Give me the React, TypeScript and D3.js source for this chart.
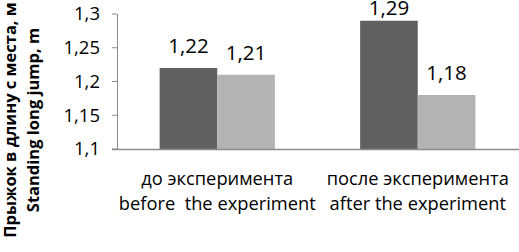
import React from 'react';
import * as d3 from 'd3';

// categories (two lines each: russian / english)
const categoriesRu = ['до эксперимента', 'после эксперимента'];
const categoriesEn = ['before  the experiment', 'after the experiment'];
const seriesNames = ['group1', 'group2'];
const group1Values = [1.22, 1.29];
const group2Values = [1.21, 1.18];
const yTicks = [1.1, 1.15, 1.2, 1.25, 1.3];

const colors = ['#606060', '#b3b3b3'];

const W = 519;
const H = 252;

const fmt = (v: number) => String(v).replace('.', ',');

const App = () => {
  const margin = { top: 14, left: 117, right: 1, bottom: 103 };
  const innerW = W - margin.left - margin.right;
  const innerH = H - margin.top - margin.bottom;

  const x0 = d3.scaleBand().domain(categoriesRu).range([0, innerW]).paddingInner(0).paddingOuter(0);
  const x1 = d3.scaleBand().domain(seriesNames).range([0, x0.bandwidth()]).paddingOuter(0.74).paddingInner(0);
  const y = d3.scaleLinear().domain([1.1, 1.3]).range([innerH, 0]);

  const series = [group1Values, group2Values];
  const font = "'Open Sans', sans-serif";

  return (
    <svg width={W} height={H} style={{ position: 'absolute', left: 0, top: 0, background: '#fff' }}>
      {/* axis title */}
      <g transform={`translate(0, 120) rotate(-90)`} fontFamily={font} fontWeight="bold" fontSize={16.5} fill="#000" textAnchor="middle">
        <text x={0} y={16}>Прыжок в длину с места, м</text>
        <text x={0} y={39}>Standing long jump, m</text>
      </g>
      <g transform={`translate(${margin.left}, ${margin.top})`}>
        {/* y ticks */}
        {yTicks.map((t) => (
          <g key={t}>
            <line x1={-5} x2={0} y1={y(t)} y2={y(t)} stroke="#8c8c8c" strokeWidth={1} />
            <text x={-17} y={y(t)} dy="0.35em" textAnchor="end" fontFamily={font} fontSize={18.5} fill="#000">
              {fmt(t)}
            </text>
          </g>
        ))}
        {/* bars */}
        {categoriesRu.map((c, i) => (
          <g key={c} transform={`translate(${x0(c)}, 0)`}>
            {seriesNames.map((s, j) => {
              const v = series[j][i];
              const top = y(v);
              const bx = x1(s) as number;
              const bw = x1.bandwidth();
              return (
                <g key={s}>
                  <rect x={bx} y={top} width={bw} height={innerH - top} fill={colors[j]} />
                  <text
                    x={bx + bw / 2}
                    y={Math.max(top - 15, 15 - margin.top)}
                    textAnchor="middle"
                    fontFamily={font}
                    fontSize={20.5}
                    fill="#000"
                  >
                    {fmt(v)}
                  </text>
                </g>
              );
            })}
            <text x={x0.bandwidth() / 2} y={innerH + 36} textAnchor="middle" fontFamily={font} fontSize={18.3} fill="#000">
              {categoriesRu[i]}
            </text>
            <text x={x0.bandwidth() / 2} y={innerH + 61} textAnchor="middle" fontFamily={font} fontSize={18.3} fill="#000" style={{ whiteSpace: 'pre' }}>
              {categoriesEn[i]}
            </text>
          </g>
        ))}
        {/* axes lines */}
        <line x1={0.5} x2={0.5} y1={0} y2={innerH} stroke="#8c8c8c" strokeWidth={1} />
        <line x1={-5} x2={innerW + 1} y1={innerH + 0.5} y2={innerH + 0.5} stroke="#8c8c8c" strokeWidth={1.5} />
      </g>
    </svg>
  );
};

export default App;
